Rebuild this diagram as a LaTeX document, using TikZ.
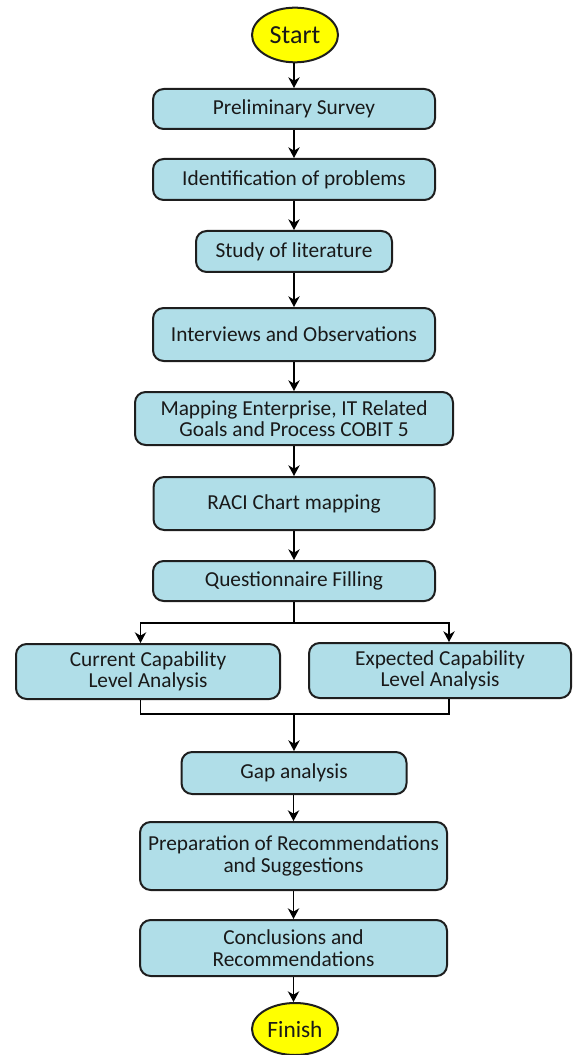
\documentclass[tikz,border=0pt]{standalone}
\usepackage{fontspec}
\setmainfont{Carlito}
\usetikzlibrary{arrows.meta,shapes.geometric}
\definecolor{boxfill}{RGB}{176,222,232}
\definecolor{boxline}{RGB}{30,30,30}
\definecolor{txt}{RGB}{25,25,25}
\definecolor{termfill}{RGB}{255,255,0}
\tikzset{
  stepbox/.style={draw=boxline, line width=1.5pt, fill=boxfill, rounded corners=8pt,
    inner sep=0pt, align=center, text=txt, font=\fontsize{16}{16}\selectfont},
  term/.style={draw=boxline, line width=1.5pt, fill=termfill, ellipse, inner sep=0pt,
    text=txt},
  conn/.style={draw=black, line width=1.1pt},
  arr/.style={conn, -{Stealth[length=8pt,width=8.5pt,inset=2.5pt]}}
}
\begin{document}
\begin{tikzpicture}[x=0.75pt,y=-0.75pt]
\useasboundingbox (0,0) rectangle (572,1055);
\node[term, minimum width=64.5pt, minimum height=41pt, font=\fontsize{19.5}{19.5}\selectfont] (start) at (295,35) {Start};
\node[stepbox, minimum width=211.5pt, minimum height=30pt] (pre) at (294,109) {Preliminary Survey};
\node[stepbox, minimum width=211.5pt, minimum height=30.75pt] (ide) at (294,179.5) {Identification of problems};
\node[stepbox, minimum width=147pt, minimum height=30.75pt] (stu) at (294,251.5) {Study of literature};
\node[stepbox, minimum width=211.5pt, minimum height=39.75pt] (int) at (294,334.5) {Interviews and Observations};
\node[stepbox, minimum width=238.5pt, minimum height=39.75pt] (map) at (294,418.5) {Mapping Enterprise, IT Related\\Goals and Process COBIT 5};
\node[stepbox, minimum width=210.75pt, minimum height=39.75pt] (rac) at (294,503.5) {RACI Chart mapping};
\node[stepbox, minimum width=211.5pt, minimum height=30pt] (que) at (294,581) {Questionnaire Filling};
\node[stepbox, minimum width=198pt, minimum height=41.25pt] (cur) at (148,671.5) {Current Capability\\Level Analysis};
\node[stepbox, minimum width=196.5pt, minimum height=41.25pt] (exp) at (440,670.5) {Expected Capability\\Level Analysis};
\node[stepbox, minimum width=168.75pt, minimum height=31.5pt] (gap) at (294,773) {Gap analysis};
\node[stepbox, minimum width=230.25pt, minimum height=51pt] (rec) at (293.5,856) {Preparation of Recommendations\\and Suggestions};
\node[stepbox, minimum width=230.25pt, minimum height=42pt] (con) at (293.5,948) {Conclusions and\\Recommendations};
\node[term, minimum width=64.5pt, minimum height=39pt, font=\fontsize{17.5}{17.5}\selectfont] (fin) at (295,1029) {Finish};

\coordinate (sc) at (294,623);
\coordinate (sl) at (140.5,623);
\coordinate (sr) at (449,623);
\coordinate (ml) at (140.5,714);
\coordinate (mr) at (449,714);
\coordinate (mc) at (294,714);

\draw[arr] (start.south -| pre.north) -- (pre.north);
\draw[arr] (pre.south) -- (ide.north);
\draw[arr] (ide.south) -- (stu.north);
\draw[arr] (stu.south) -- (int.north);
\draw[arr] (int.south) -- (map.north);
\draw[arr] (map.south) -- (rac.north);
\draw[arr] (rac.south) -- (que.north);
\draw[conn] (que.south) -- (sc);
\draw[arr] (sc) -- (sl) -- (sl |- cur.north);
\draw[arr] (sc) -- (sr) -- (sr |- exp.north);
\draw[conn] (ml |- cur.south) -- (ml) -- (mr) -- (mr |- exp.south);
\draw[arr] (mc) -- (gap.north);
\draw[arr] (gap.south -| rec.north) -- (rec.north);
\draw[arr] (rec.south) -- (con.north);
\draw[arr] (con.south) -- (fin.north -| con.south);
\end{tikzpicture}
\end{document}
